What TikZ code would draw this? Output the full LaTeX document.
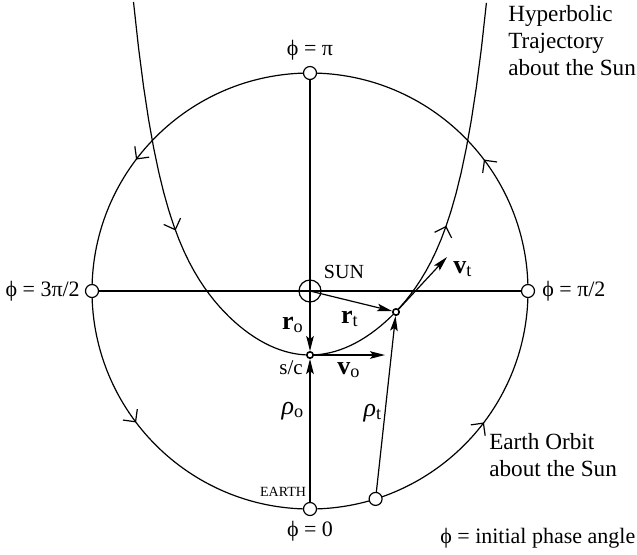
\documentclass[tikz,border=0pt]{standalone}
\usepackage{fontspec}
\setmainfont{Liberation Serif}
\usetikzlibrary{arrows.meta,decorations.markings}
\tikzset{orbit/.style={x=0.5pt,y=0.5pt,line width=0.6pt,font=\fontsize{11}{13.5}\selectfont},
  station/.style={circle,draw,fill=white,minimum size=6.5pt,inner sep=0pt},
  craft/.style={circle,draw,fill=white,minimum size=3.2pt,inner sep=0pt,line width=0.8pt},
  vec/.style={-{Stealth[length=7.5pt,width=3.8pt,inset=1.5pt]}},
  vlabel/.style={font=\fontsize{13}{15}\selectfont},
  flow/.style={postaction={decorate},decoration={markings,#1}}}
\newcommand{\barb}{\arrow{Straight Barb[length=4.5pt,width=9pt]}}
\newcommand{\vecsym}[2]{\textbf{#1}\textsubscript{#2}}
\newcommand{\rhosym}[1]{\textit{ρ}\textsubscript{#1}}

\begin{document}
\begin{tikzpicture}[orbit]
    \useasboundingbox (0,0) rectangle (637,-554);
    \def\R{218}
    \coordinate (C) at (310,-291);
    % earth orbit and trajectory
    \draw[flow={mark=at position 0.103 with {\barb},mark=at position 0.397 with {\barb},
      mark=at position 0.603 with {\barb},mark=at position 0.897 with {\barb}}] (C) circle (\R);
    \draw[flow={mark=at position 0.273 with {\barb},mark=at position 0.734 with {\barb}}]
      plot[domain=-1.765:1.765,samples=71]
      ({310+100*\x},{-355+58*\x*\x+1.83*(\x*\x)*(\x*\x)*(\x*\x)*(\x*\x)});
    \node[station] (phipi) at (310,-73) {};
    \node[station] (phi3) at (92,-291) {};
    \node[station] (phi1) at (528,-291) {};
    \node[station] (earth) at (310,-509) {};
    \node[station] (earthnow) at (375.6,-498.9) {};
    \node[circle,draw,minimum size=11pt,inner sep=0pt] (sun) at (C) {};
    \node[craft] (sc) at (310,-355) {};
    \node[craft] (tp) at (396,-312) {};
    \coordinate (vo) at (385,-355);
    \coordinate (vt) at (447,-257);
    \draw (phipi) -- (sun.center);
    \draw (phi3) -- (phi1);
    \draw[vec] (sun.center) -- (sc);
    \draw[vec] (earth) -- (sc);
    \draw[vec] (sun.center) -- (tp);
    \draw[vec] (earthnow) -- (tp);
    \draw[vec] (sc) -- (vo);
    \draw[vec] (tp) -- (vt);
    % labels
    \node (lpi) at (310,-50) {ϕ = π};
    \node[anchor=east] (l3pi) at (87,-291) {ϕ = 3π/2};
    \node[anchor=west] (lpi2) at (535,-291) {ϕ = π/2};
    \node (l0) at (310,-531) {ϕ = 0};
    \node[anchor=west,align=left,font=\fontsize{11.6}{13.5}\selectfont] (hyp) at (501,-41)
      {Hyperbolic\\Trajectory\\about the Sun};
    \node[anchor=west,align=left,font=\fontsize{11.6}{13.5}\selectfont] (eo) at (482,-455)
      {Earth Orbit\\about the Sun};
    \node[anchor=west] (note) at (433,-538) {ϕ = initial phase angle};
    \node[font=\fontsize{10}{12}\selectfont] (sunlbl) at (344,-272) {SUN};
    \node[font=\fontsize{7}{8}\selectfont] (earthlbl) at (283,-492) {EARTH};
    \node[font=\fontsize{10.5}{12}\selectfont] (sclbl) at (291,-368) {s/c};
    \node[vlabel] (ro) at (293,-325) {\vecsym{r}{o}};
    \node[vlabel] (rt) at (350,-319) {\vecsym{r}{t}};
    \node[vlabel] (vol) at (349,-370) {\vecsym{v}{o}};
    \node[vlabel] (vtl) at (463,-269) {\vecsym{v}{t}};
    \node[vlabel] (rho0) at (293,-411) {\rhosym{o}};
    \node[vlabel] (rhot) at (373,-413) {\rhosym{t}};
\end{tikzpicture}
\end{document}
